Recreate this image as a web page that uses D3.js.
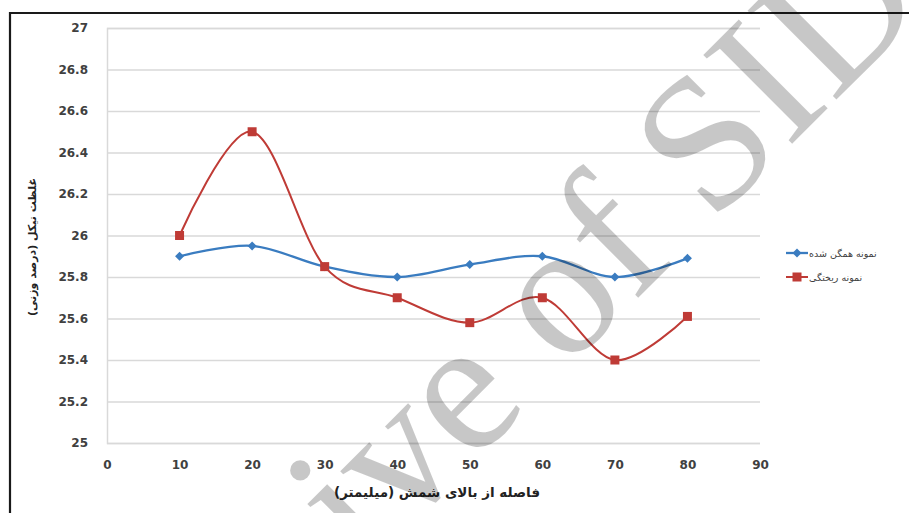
<!DOCTYPE html>
<html>
<head>
<meta charset="utf-8">
<script src="https://cdn.jsdelivr.net/npm/d3@7"></script>
<style>
  html, body { margin: 0; padding: 0; background: #fff; }
  svg { display: block; }
</style>
</head>
<body>
<svg id="chart" width="909" height="513"></svg>
<script>
// Distance from the top of the ingot (mm)
const distances = [10, 20, 30, 40, 50, 60, 70, 80];
// Nickel concentration (wt%) for each sample
const homogenized = [25.9, 25.95, 25.85, 25.8, 25.86, 25.9, 25.8, 25.89];
const asCast = [26.0, 26.5, 25.85, 25.7, 25.58, 25.7, 25.4, 25.61];
const seriesNames = ["نمونه همگن شده", "نمونه ریختگی"];
const xTicks = [0, 10, 20, 30, 40, 50, 60, 70, 80, 90];
const yTicks = [25, 25.2, 25.4, 25.6, 25.8, 26, 26.2, 26.4, 26.6, 26.8, 27];
const xTitle = "فاصله از بالای شمش (میلیمتر)";
const yTitle = "غلظت نیکل (درصد وزنی)";
const watermark = "Archive of SID";

const svg = d3.select("#chart");
const plot = { left: 107, right: 760, top: 28, bottom: 443 };

const x = d3.scaleLinear().domain([0, 90]).range([plot.left, plot.right]);
const y = d3.scaleLinear().domain([25, 27]).range([plot.bottom, plot.top]);

// outer frame
svg.append("line").attr("x1", 10).attr("x2", 909).attr("y1", 13).attr("y2", 13)
  .attr("stroke", "#1a1a1a").attr("stroke-width", 2.2);
svg.append("line").attr("x1", 10).attr("x2", 10).attr("y1", 12).attr("y2", 513)
  .attr("stroke", "#1a1a1a").attr("stroke-width", 2.2);

// horizontal gridlines
const yAxis = d3.axisLeft(y).tickValues(yTicks)
  .tickSize(-(plot.right - plot.left)).tickPadding(19)
  .tickFormat(d => d3.format("")(+d.toFixed(1)));
const gy = svg.append("g").attr("transform", `translate(${plot.left},0)`).call(yAxis);
gy.select(".domain").attr("stroke", "#d9d9d9").attr("stroke-width", 1.5);
gy.selectAll(".tick line").attr("stroke", "#d9d9d9").attr("stroke-width", 1.5);
gy.selectAll(".tick text")
  .attr("font-family", "DejaVu Sans").attr("font-weight", "bold")
  .attr("font-size", 12).attr("fill", "#404040");

const xAxis = d3.axisBottom(x).tickValues(xTicks).tickSize(0).tickPadding(17);
const gx = svg.append("g").attr("transform", `translate(0,${plot.bottom})`).call(xAxis);
gx.select(".domain").remove();
gx.selectAll(".tick text")
  .attr("font-family", "DejaVu Sans").attr("font-weight", "bold")
  .attr("font-size", 12).attr("fill", "#404040");

// axis titles
svg.append("text")
  .attr("transform", `translate(36,247) rotate(-90)`)
  .attr("text-anchor", "middle")
  .attr("font-family", "DejaVu Sans").attr("font-weight", "bold")
  .attr("font-size", 11).attr("fill", "#222")
  .text(yTitle);
svg.append("text")
  .attr("x", 437).attr("y", 497)
  .attr("text-anchor", "middle")
  .attr("font-family", "DejaVu Sans").attr("font-weight", "bold")
  .attr("font-size", 13.5).attr("fill", "#222")
  .text(xTitle);

// smoothed series
const line = d3.line().x(d => x(d[0])).y(d => y(d[1])).curve(d3.curveCardinal.tension(0));
const series = [
  { name: seriesNames[0], values: homogenized, color: "#3a7cc0", marker: "diamond", width: 2.3 },
  { name: seriesNames[1], values: asCast, color: "#bf3b36", marker: "square", width: 2 }
];

function drawMarker(g, type, cx, cy, color) {
  if (type === "diamond") {
    g.append("path")
      .attr("d", `M${cx},${cy - 4.5}L${cx + 4.5},${cy}L${cx},${cy + 4.5}L${cx - 4.5},${cy}Z`)
      .attr("fill", color);
  } else {
    g.append("rect").attr("x", cx - 4.5).attr("y", cy - 4.5)
      .attr("width", 9).attr("height", 9).attr("fill", color);
  }
}

series.forEach(s => {
  const pts = distances.map((d, i) => [d, s.values[i]]);
  svg.append("path").datum(pts).attr("d", line)
    .attr("fill", "none").attr("stroke", s.color).attr("stroke-width", s.width);
  const g = svg.append("g");
  pts.forEach(p => drawMarker(g, s.marker, x(p[0]), y(p[1]), s.color));
});

// legend
series.forEach((s, i) => {
  const ly = 253 + i * 24;
  svg.append("line").attr("x1", 786).attr("x2", 808).attr("y1", ly).attr("y2", ly)
    .attr("stroke", s.color).attr("stroke-width", s.width);
  drawMarker(svg.append("g"), s.marker, 797, ly, s.color);
  svg.append("text").attr("x", 809).attr("y", ly + 4)
    .attr("font-family", "DejaVu Sans").attr("font-size", 9.5).attr("fill", "#404040")
    .text(s.name);
});

// archive watermark
svg.append("text")
  .attr("transform", "translate(512,424) rotate(-45)")
  .attr("text-anchor", "middle")
  .attr("font-family", "Liberation Serif").attr("font-size", 192)
  .attr("fill", "#000").attr("fill-opacity", 0.22)
  .text(watermark);
</script>
</body>
</html>
